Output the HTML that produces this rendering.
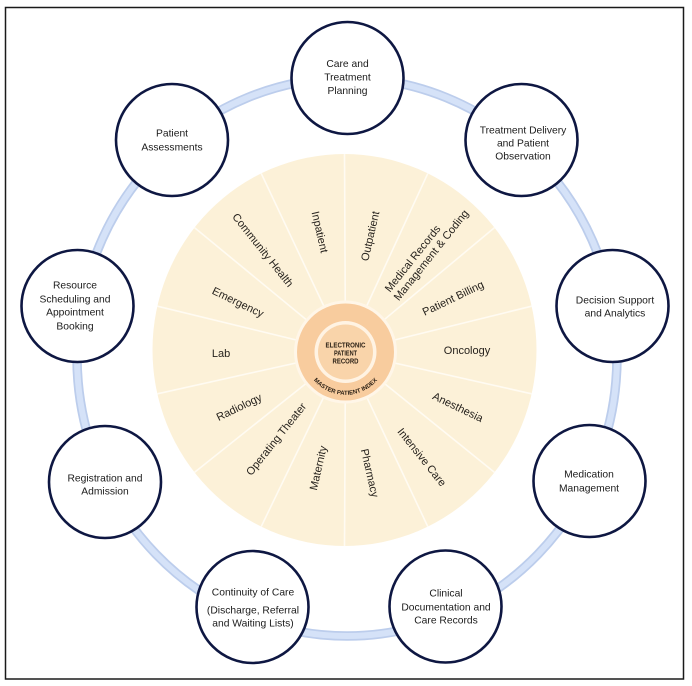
<!DOCTYPE html>
<html>
<head>
<meta charset="utf-8">
<style>
html,body{margin:0;padding:0;background:#fff;}
svg{display:block;}
text{font-family:"Liberation Sans",sans-serif;}
</style>
</head>
<body>
<svg width="692" height="686" viewBox="0 0 692 686" xmlns="http://www.w3.org/2000/svg">
  <rect x="0" y="0" width="692" height="686" fill="#ffffff"/>
  <rect x="5.5" y="7.5" width="678" height="671.5" fill="none" stroke="#1a1a1a" stroke-width="1.5"/>

  <!-- blue ring -->
  <ellipse cx="347" cy="357" rx="270" ry="279" fill="none" stroke="#bccdec" stroke-width="9.5"/>
  <ellipse cx="347" cy="357" rx="270" ry="279" fill="none" stroke="#d5e2f8" stroke-width="6"/>

  <!-- yellow disk -->
  <ellipse cx="344.5" cy="350" rx="192" ry="196" fill="#fcf1d8"/>

  <!-- spokes -->
  <g stroke="#fffbf2" stroke-width="1.6">
    <line x1="345.5" y1="352" x2="344.5" y2="154"/>
    <line x1="345.5" y1="352" x2="427.8" y2="173.4"/>
    <line x1="345.5" y1="352" x2="494.5" y2="227.6"/>
    <line x1="345.5" y1="352" x2="531.6" y2="306.2"/>
    <line x1="345.5" y1="352" x2="531.6" y2="393.8"/>
    <line x1="345.5" y1="352" x2="494.5" y2="472.4"/>
    <line x1="345.5" y1="352" x2="427.8" y2="526.6"/>
    <line x1="345.5" y1="352" x2="344.5" y2="546"/>
    <line x1="345.5" y1="352" x2="261.2" y2="526.6"/>
    <line x1="345.5" y1="352" x2="194.5" y2="472.4"/>
    <line x1="345.5" y1="352" x2="157.4" y2="393.8"/>
    <line x1="345.5" y1="352" x2="157.4" y2="306.2"/>
    <line x1="345.5" y1="352" x2="194.5" y2="227.6"/>
    <line x1="345.5" y1="352" x2="261.2" y2="173.4"/>
  </g>

  <!-- hub -->
  <circle cx="345.5" cy="352" r="51.5" fill="#fff6e8"/>
  <circle cx="345.5" cy="352" r="48.5" fill="#f8cc9e"/>
  <circle cx="345.5" cy="352" r="31" fill="#fff3e3"/>
  <circle cx="345.5" cy="352" r="27.5" fill="#f9d4aa"/>
  <g fill="#2a1f14" font-size="7" text-anchor="middle" font-weight="bold">
    <text x="345.5" y="347.5" textLength="40" lengthAdjust="spacingAndGlyphs">ELECTRONIC</text>
    <text x="345.5" y="355.5" textLength="23" lengthAdjust="spacingAndGlyphs">PATIENT</text>
    <text x="345.5" y="363.5" textLength="26" lengthAdjust="spacingAndGlyphs">RECORD</text>
  </g>
  <defs>
    <path id="mpi" d="M 311.5 377.5 A 42 42 0 0 0 379.5 377.5"/>
  </defs>
  <text fill="#2a1f14" font-size="6" font-weight="bold">
    <textPath href="#mpi" startOffset="50%" text-anchor="middle">MASTER PATIENT INDEX</textPath>
  </text>

  <!-- spoke labels -->
  <g fill="#26221d" font-size="11" text-anchor="middle">
    <text transform="translate(320,232) rotate(77.1)" dy="0.35em">Inpatient</text>
    <text transform="translate(370,236) rotate(-77.1)" dy="0.35em">Outpatient</text>
    <text transform="translate(412.5,258.5) rotate(-51.4)" dy="0.35em">Medical Records</text>
    <text transform="translate(431,255) rotate(-51.4)" dy="0.35em">Management &amp; Coding</text>
    <text transform="translate(453,298) rotate(-25.7)" dy="0.35em">Patient Billing</text>
    <text transform="translate(467,350) rotate(0)" dy="0.35em">Oncology</text>
    <text transform="translate(458,407) rotate(25.7)" dy="0.35em">Anesthesia</text>
    <text transform="translate(422,457) rotate(51.4)" dy="0.35em">Intensive Care</text>
    <text transform="translate(370,473) rotate(77.1)" dy="0.35em">Pharmacy</text>
    <text transform="translate(318,468) rotate(-77.1)" dy="0.35em">Maternity</text>
    <text transform="translate(276,439) rotate(-51.4)" dy="0.35em">Operating Theater</text>
    <text transform="translate(239,407) rotate(-25.7)" dy="0.35em">Radiology</text>
    <text transform="translate(221,353) rotate(0)" dy="0.35em">Lab</text>
    <text transform="translate(238,302) rotate(25.7)" dy="0.35em">Emergency</text>
    <text transform="translate(263,250) rotate(51.4)" dy="0.35em">Community Health</text>
  </g>

  <!-- outer nodes -->
  <g fill="#ffffff" stroke="#0e1742" stroke-width="2.6">
    <circle cx="347.5" cy="78" r="56"/>
    <circle cx="521.5" cy="140" r="56"/>
    <circle cx="612.5" cy="306" r="56"/>
    <circle cx="589.5" cy="481" r="56"/>
    <circle cx="445.5" cy="606.5" r="56"/>
    <circle cx="252.5" cy="607" r="56"/>
    <circle cx="105" cy="482" r="56"/>
    <circle cx="77.5" cy="306" r="56"/>
    <circle cx="172" cy="140" r="56"/>
  </g>

  <g fill="#1b1b1b" font-size="10.3" text-anchor="middle">
    <text x="347.5" y="67">Care and</text>
    <text x="347.5" y="80.5">Treatment</text>
    <text x="347.5" y="94">Planning</text>

    <text x="523" y="133.5">Treatment Delivery</text>
    <text x="523" y="146.5">and Patient</text>
    <text x="523" y="159.5">Observation</text>

    <text x="615" y="303.5">Decision Support</text>
    <text x="615" y="316.5">and Analytics</text>

    <text x="589" y="477.5">Medication</text>
    <text x="589" y="491.5">Management</text>

    <text x="446" y="596.5">Clinical</text>
    <text x="446" y="610.5">Documentation and</text>
    <text x="446" y="623.5">Care Records</text>

    <text x="253" y="595.5">Continuity of Care</text>
    <text x="253" y="613.5">(Discharge, Referral</text>
    <text x="253" y="626.5">and Waiting Lists)</text>

    <text x="105" y="481.5">Registration and</text>
    <text x="105" y="494.5">Admission</text>

    <text x="75" y="288.5">Resource</text>
    <text x="75" y="302.5">Scheduling and</text>
    <text x="75" y="315.5">Appointment</text>
    <text x="75" y="329.5">Booking</text>

    <text x="172" y="136.5">Patient</text>
    <text x="172" y="150.5">Assessments</text>
  </g>
</svg>
</body>
</html>
